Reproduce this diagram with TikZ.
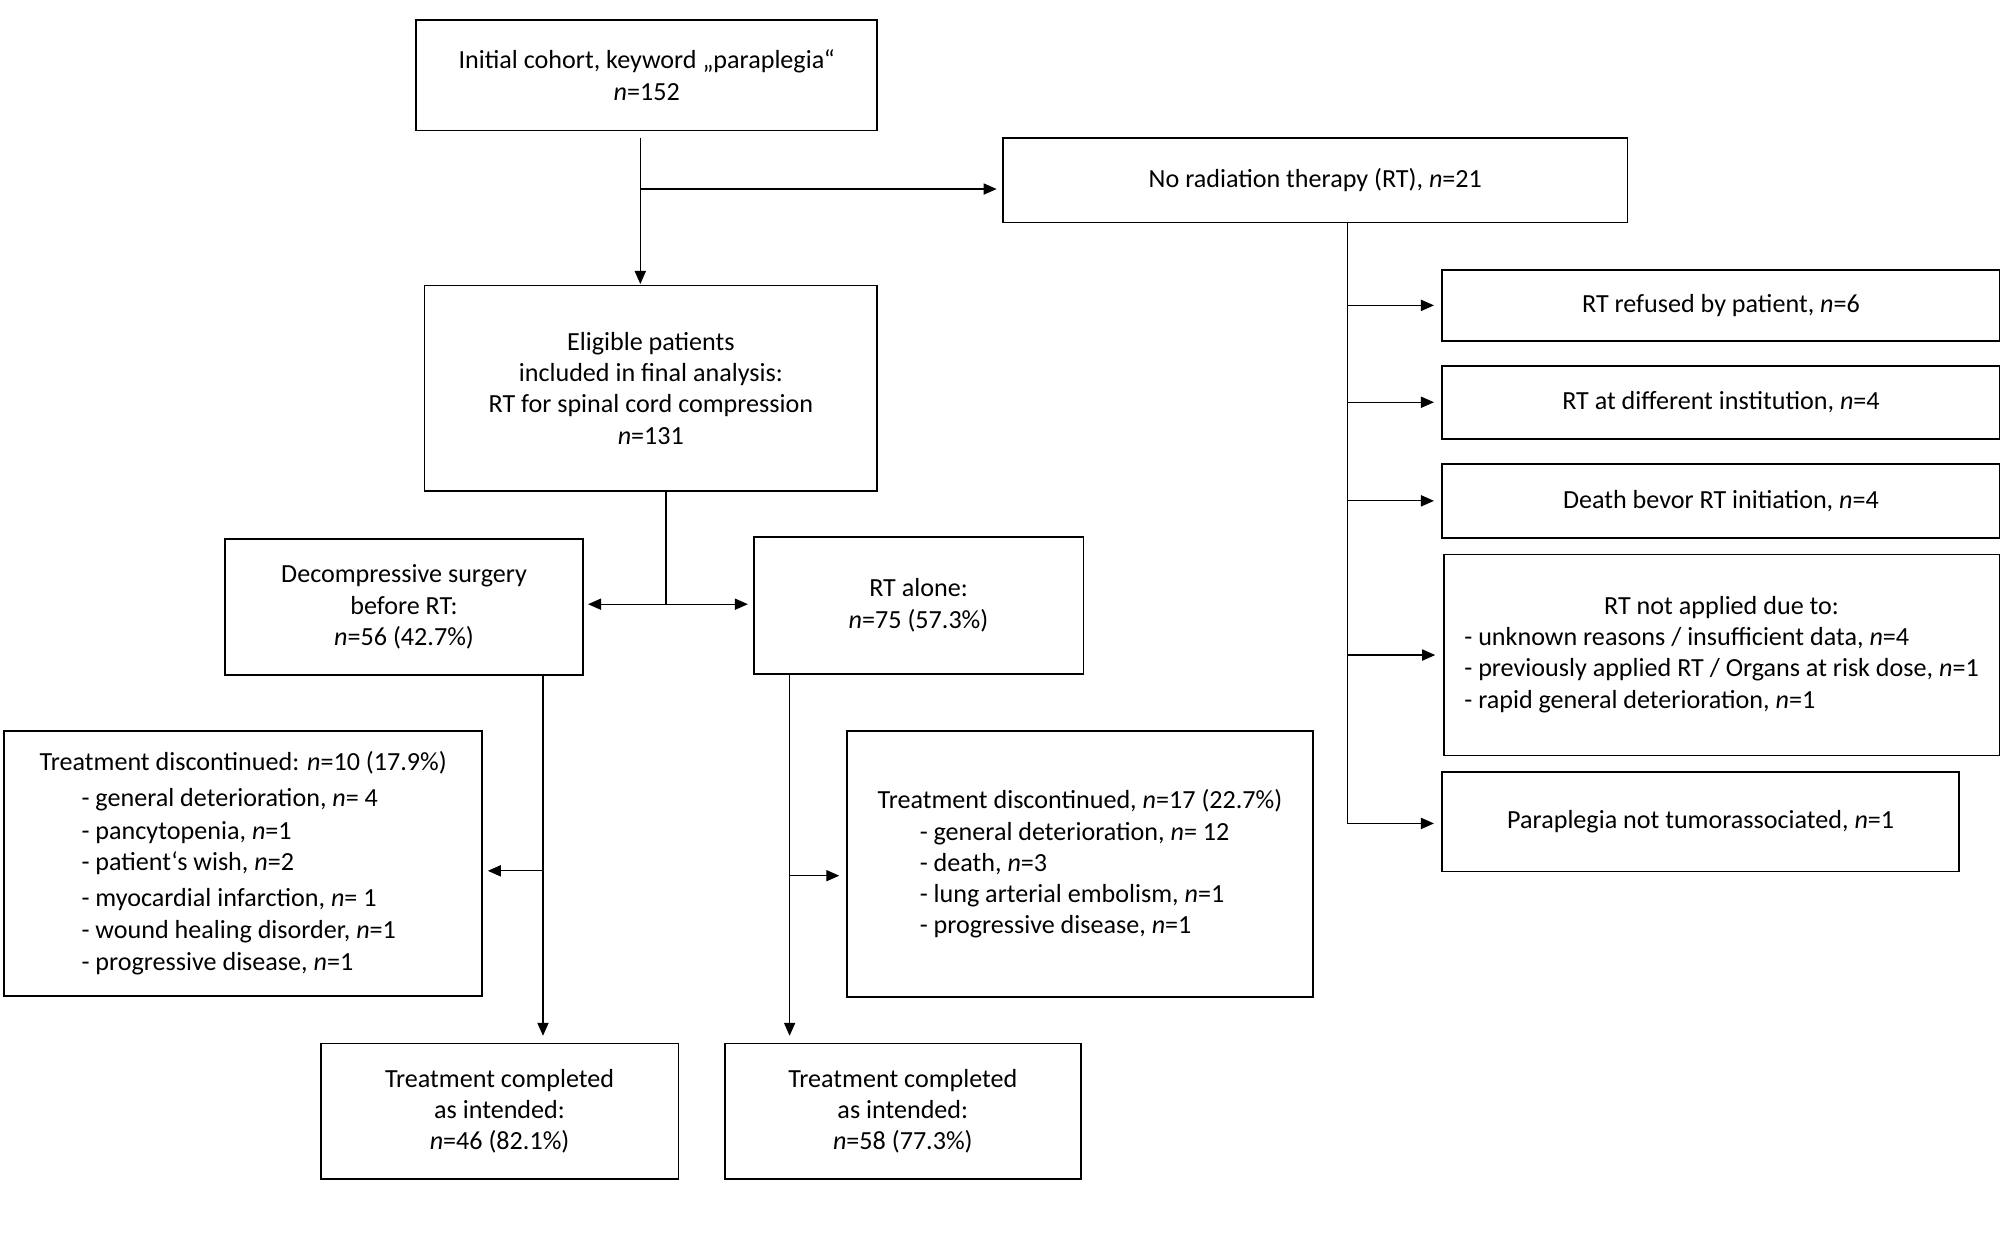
\documentclass[tikz,border=0pt]{standalone}
\usepackage{fontspec}
\setmainfont{Carlito}
\usetikzlibrary{arrows.meta}
\newcommand{\fs}{\fontsize{13.05}{15.6}\selectfont}
\newcommand{\nn}{\textit{n}}
\begin{document}
\begin{tikzpicture}[x=0.64pt,y=-0.64pt,
  box/.style 2 args={draw, line width=0.9pt, inner sep=0pt, outer sep=0pt,
    minimum width=#1*0.64pt, minimum height=#2*0.64pt, align=center, font=\fs},
  conn/.style={line width=0.6pt},
  arr/.style={conn, -{Triangle[length=6.5pt,width=5.6pt]}},
  arrb/.style={conn, {Triangle[length=6.5pt,width=5.6pt]}-{Triangle[length=6.5pt,width=5.6pt]}},
]
\useasboundingbox (0,0) rectangle (1568,964.4);

% main column
\node[box={360}{86.5}] (top) at (505,58.65) {Initial cohort, keyword „paraplegia“\\\nn=152};
\node[box={353.5}{160.5}] (elig) at (508.25,303.25) {Eligible patients\\included in final analysis:\\RT for spinal cord compression\\\nn=131};
\node[box={487.4}{65.7}] (norad) at (1027.1,140.85) {No radiation therapy (RT), \nn=21};
\node[box={279}{106}] (decomp) at (315.5,474) {Decompressive surgery\\before RT:\\\nn=56 (42.7\%)};
\node[box={257.5}{106.7}] (rtalone) at (717.25,472.65) {RT alone:\\\nn=75 (57.3\%)};

\node[box={373.3}{207.5}, align=left] (ldisc) at (189.95,674.25) {Treatment discontinued: \nn=10 (17.9\%)\\[2.4pt]
\hspace{20.9pt}- general deterioration, \nn= 4\\[0.8pt]
\hspace{20.9pt}- pancytopenia, \nn=1\\
\hspace{20.9pt}- patient‘s wish, \nn=2\\[2.3pt]
\hspace{20.9pt}- myocardial infarction, \nn= 1\\[0.5pt]
\hspace{20.9pt}- wound healing disorder, \nn=1\\[0.4pt]
\hspace{20.9pt}- progressive disease, \nn=1};
\node[box={364.1}{207.7}, align=left] (rdisc) at (843.35,674.65) {Treatment discontinued, \nn=17 (22.7\%)\\
\hspace{21pt}- general deterioration, \nn= 12\\
\hspace{21pt}- death, \nn=3\\
\hspace{21pt}- lung arterial embolism, \nn=1\\
\hspace{21pt}- progressive disease, \nn=1};

\node[box={279.4}{105.6}] (lcomp) at (390.1,867.7) {Treatment completed\\as intended:\\\nn=46 (82.1\%)};
\node[box={278}{105.6}] (rcomp) at (705,867.7) {Treatment completed\\as intended:\\\nn=58 (77.3\%)};

% right side boxes
\node[box={435.1}{55.3}] (refused) at (1343.85,238.45) {RT refused by patient, \nn=6};
\node[box={435.1}{57}] (diffinst) at (1343.85,314.1) {RT at different institution, \nn=4};
\node[box={435.1}{57.8}] (death) at (1343.85,391.1) {Death bevor RT initiation, \nn=4};
\node[box={434.1}{157}] (notappl) at (1344.35,511.5) {\begin{tabular}{@{}l@{}}
\multicolumn{1}{@{}c@{}}{RT not applied due to:}\\
- unknown reasons / insufficient data, \nn=4\\
- previously applied RT / Organs at risk dose, \nn=1\\
- rapid general deterioration, \nn=1
\end{tabular}};
\node[box={403.5}{77.7}] (parapl) at (1328.05,641.65) {Paraplegia not tumorassociated, \nn=1};

% connectors: top
\coordinate (tA) at (500,107.5);
\coordinate (tB) at (500,147.6);
\draw[arr, shorten >=0.8pt] (tA) -- (tA |- elig.north);
\draw[arr, shorten >=3.3pt] (tB) -- (tB -| norad.west);

% split
\coordinate (sp) at (520,471.8);
\draw[conn] (sp |- elig.south) -- (sp);
\draw[arrb, shorten <=2.7pt, shorten >=2.9pt] (decomp.east |- sp) -- (rtalone.west |- sp);

% left column
\coordinate (lc) at (424,680);
\draw[arr, shorten >=3.9pt] (lc |- decomp.south) -- (lc |- lcomp.north);
\draw[arr, shorten >=2.8pt] (lc) -- (lc -| ldisc.east);

% right column
\coordinate (rc) at (616.6,683.8);
\draw[arr, shorten >=3.9pt] (rc |- rtalone.south) -- (rc |- rcomp.north);
\draw[arr, shorten >=3.8pt] (rc) -- (rc -| rdisc.west);

% side trunk
\coordinate (sc) at (1052,643);
\draw[conn] (sc |- norad.south) -- (sc);
\draw[arr, shorten >=4.2pt] (sc |- refused.west) -- (refused.west);
\draw[arr, shorten >=4.2pt] (sc |- diffinst.west) -- (diffinst.west);
\draw[arr, shorten >=4.2pt] (sc |- death.west) -- (death.west);
\draw[arr, shorten >=4.2pt] (sc |- notappl.west) -- (notappl.west);
\draw[arr, shorten >=4.2pt] (sc) -- (sc -| parapl.west);
\end{tikzpicture}
\end{document}
